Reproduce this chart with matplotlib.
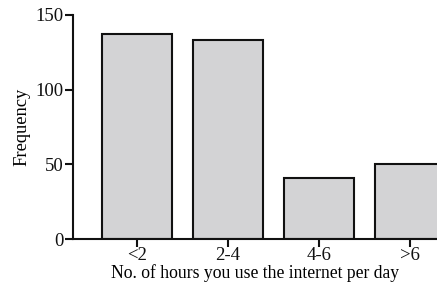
import matplotlib.pyplot as plt

categories = ['<2', '2-4', '4-6', '>6']
frequency = [137, 133, 41, 50]

plt.rcParams['font.family'] = ['Liberation Serif', 'DejaVu Serif']

fig = plt.figure(figsize=(4.37, 2.86), dpi=100)
ax = fig.add_axes([0.167, 0.164, 0.833, 0.784])

x = range(len(categories))
ax.bar(x, frequency, width=0.76, color='#d3d3d5', edgecolor='#111111', linewidth=1.5, zorder=2)

ax.set_xlim(-0.703, 3.297)
ax.set_ylim(0, 150)
ax.set_yticks([0, 50, 100, 150])
ax.set_xticks(list(x))
ax.set_xticklabels(categories)

for side in ['top', 'right']:
    ax.spines[side].set_visible(False)
for side in ['left', 'bottom']:
    ax.spines[side].set_linewidth(1.5)
    ax.spines[side].set_color('#111111')

ax.tick_params(axis='both', direction='out', length=6, width=1.5, labelsize=13.5, colors='#111111')
ax.tick_params(axis='x', pad=0)
ax.tick_params(axis='y', pad=1)
ax.set_ylabel('Frequency', fontsize=13.3, labelpad=3.5)
ax.set_xlabel('No. of hours you use the internet per day', fontsize=12.7, labelpad=0)

fig.savefig('out.png', dpi=100)
